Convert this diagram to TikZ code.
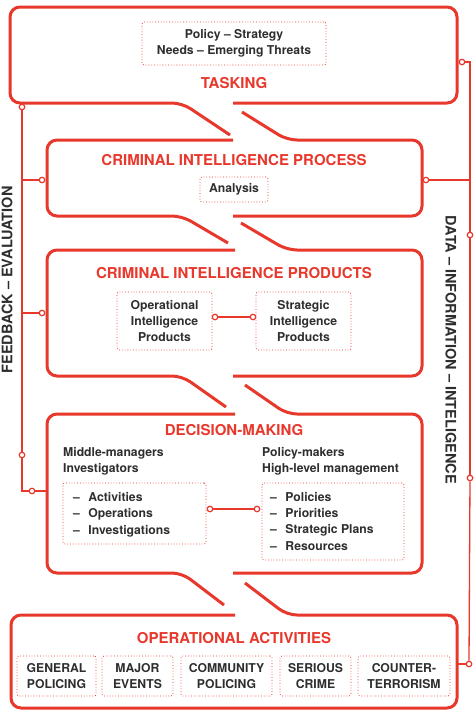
\documentclass[tikz,border=0pt]{standalone}
\usepackage{fontspec}
\setmainfont{TeX Gyre Heros}
\definecolor{cred}{HTML}{E8372B}
\definecolor{ctxt}{HTML}{2E2E2E}
\begin{document}
\begin{tikzpicture}[x=1pt,y=-1pt,
  bigline/.style={draw=cred,line width=3pt,rounded corners=10pt},
  thinline/.style={draw=cred,line width=1.3pt},
  dotbox/.style={draw=cred,dotted,line width=0.8pt,rounded corners=2pt,inner sep=0pt,
     font=\fontsize{12.2}{16.3}\selectfont\bfseries,text=ctxt,align=center},
  titletext/.style={font=\fontsize{15}{18}\selectfont\bfseries,text=cred,inner sep=0pt},
  bodytext/.style={font=\fontsize{12.2}{16.3}\selectfont\bfseries,text=ctxt,inner sep=0pt,align=left},
  sidelabel/.style={font=\fontsize{14.5}{17}\selectfont\bfseries,text=ctxt,inner sep=0pt},
  ring/.style={circle,draw=cred,fill=white,line width=1.2pt,inner sep=0pt,minimum size=5.5pt}]
\useasboundingbox (0,0) rectangle (474,724);

% ---- big outlines ----
\draw[bigline] (233,103) -- (457,103) -- (457,7) -- (10,7) -- (10,103) -- (182,103) -- (230,135);
\draw[bigline] (242,112) -- (287,140) -- (422,140) -- (422,216) -- (233,216);
\draw[bigline] (233,140) -- (47,140) -- (47,216) -- (182,216) -- (228,243);
\draw[bigline] (241,223) -- (287,250) -- (422,250) -- (422,376) -- (233,376);
\draw[bigline] (235,250) -- (47,250) -- (47,376) -- (182,376) -- (226,407);
\draw[bigline] (245,385) -- (287,414) -- (422,414) -- (422,573) -- (233,573);
\draw[bigline] (235,414) -- (47,414) -- (47,573) -- (182,573) -- (224,605);
\draw[bigline] (245,583) -- (287,615) -- (457,615) -- (457,708) -- (11,708) -- (11,615) -- (235,615);

% ---- tasking ----
\node[dotbox,minimum width=184pt,minimum height=43pt] (needs) at (234,43.5) {Policy -- Strategy\\Needs -- Emerging Threats};
\node[titletext] (tasking) at (234,83) {TASKING};

% ---- process ----
\node[titletext] (process) at (234,160) {CRIMINAL INTELLIGENCE PROCESS};
\node[dotbox,minimum width=68pt,minimum height=25pt] (analysis) at (234,189.5) {Analysis};

% ---- products ----
\node[titletext] (products) at (234,273) {CRIMINAL INTELLIGENCE PRODUCTS};
\node[dotbox,minimum width=95pt,minimum height=58pt] (oip) at (164.5,321) {Operational\\Intelligence\\Products};
\node[dotbox,minimum width=95pt,minimum height=58pt] (sip) at (303.5,321) {Strategic\\Intelligence\\Products};
\node[ring] (r-oip) at (215,317) {};
\node[ring] (r-sip) at (253,317) {};
\draw[thinline] (r-oip) -- (r-sip);

% ---- decision making ----
\node[titletext] (decision) at (234,430) {DECISION-MAKING};
\node[bodytext,anchor=west] (middle) at (63,461) {Middle-managers\\Investigators};
\node[bodytext,anchor=west] (policymakers) at (262,461) {Policy-makers\\High-level management};
\node[dotbox,minimum width=143pt,minimum height=61pt] (opsbox) at (134.5,513.5) {};
\node[dotbox,minimum width=142pt,minimum height=77pt] (stratbox) at (333,521.5) {};
\node[bodytext,anchor=west] (opslist) at (73,514.5) {\begin{tabular}{@{}l@{\hspace{8.5pt}}l@{}}--&Activities\\--&Operations\\--&Investigations\end{tabular}};
\node[bodytext,anchor=west] (stratlist) at (270,522.5) {\begin{tabular}{@{}l@{\hspace{8.5pt}}l@{}}--&Policies\\--&Priorities\\--&Strategic Plans\\--&Resources\end{tabular}};
\node[ring] (r-ops) at (210,509) {};
\node[ring] (r-strat) at (257,509) {};
\draw[thinline] (r-ops) -- (r-strat);

% ---- operational activities ----
\node[titletext] (oper) at (234,638) {OPERATIONAL ACTIVITIES};
\node[dotbox,minimum width=79pt,minimum height=40pt] (gp) at (56.5,676) {GENERAL\\POLICING};
\node[dotbox,minimum width=71pt,minimum height=40pt] (me) at (137.5,676) {MAJOR\\EVENTS};
\node[dotbox,minimum width=91pt,minimum height=40pt] (cp) at (226.5,676) {COMMUNITY\\POLICING};
\node[dotbox,minimum width=71pt,minimum height=40pt] (sc) at (315.5,676) {SERIOUS\\CRIME};
\node[dotbox,minimum width=92pt,minimum height=40pt] (ct) at (404,676) {COUNTER-\\TERRORISM};

% ---- feedback line (left) ----
\node[sidelabel,rotate=90] (feedback) at (7,280) {FEEDBACK -- EVALUATION};
\node[ring] (fb-top) at (22,107) {};
\node[ring] (fb-proc) at (42,180) {};
\node[ring] (fb-prod) at (42,313) {};
\node[ring] (fb-mid) at (22,455) {};
\node[ring] (fb-dec) at (32,491) {};
\coordinate (fb-j1) at (22,180);
\coordinate (fb-j2) at (22,313);
\coordinate (fb-corner) at (22,491);
\coordinate (fb-end) at (46,491);
\draw[thinline] (fb-top) -- (fb-mid);
\draw[thinline] (fb-mid) -- (fb-corner) -- (fb-dec);
\draw[thinline] (fb-dec) -- (fb-end);
\draw[thinline] (fb-j1) -- (fb-proc);
\draw[thinline] (fb-j2) -- (fb-prod);

% ---- data line (right) ----
\node[sidelabel,rotate=-90] (data) at (451,350) {DATA -- INFORMATION -- INTELIGENCE};
\node[ring] (dt-top) at (462,62) {};
\node[ring] (dt-proc) at (426,180) {};
\node[ring] (dt-a) at (470,235) {};
\node[ring] (dt-b) at (470,478) {};
\node[ring] (dt-oper) at (469,664) {};
\coordinate (dt-corner) at (470,62);
\coordinate (dt-j1) at (470,180);
\coordinate (dt-end) at (458,664);
\draw[thinline] (dt-top) -- (dt-corner) -- (dt-a);
\draw[thinline] (dt-a) -- (dt-b);
\draw[thinline] (dt-b) -- (dt-oper);
\draw[thinline] (dt-proc) -- (dt-j1);
\draw[thinline] (dt-oper) -- (dt-end);
\end{tikzpicture}
\end{document}
